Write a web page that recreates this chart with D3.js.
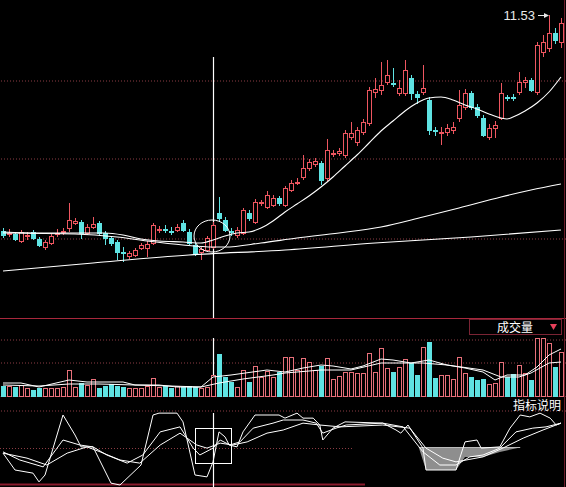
<!DOCTYPE html>
<html>
<head>
<meta charset="utf-8">
<script src="https://cdn.jsdelivr.net/npm/d3@7/dist/d3.min.js"></script>
<style>
html,body{margin:0;padding:0;background:#000;overflow:hidden;}
svg{display:block;}
</style>
</head>
<body>
<div id="chart"></div>
<script>
// daily candles
var open  = [7.21,7.16,7.15,7.01,7.10,7.19,7.05,6.89,6.97,7.16, 7.18,7.27,7.37,7.39,7.17,7.29,7.37,7.17,7.07,6.99,
             6.80,6.71,6.73,6.87,6.87,6.97,7.22,7.26,7.22,7.23, 7.37,7.19,6.93,6.79,6.83,6.89,7.57,7.43,7.20,7.13,
             7.17,7.57,7.39,7.76,7.69,7.73,7.87,7.73,8.03,8.18, 8.29,8.47,8.55,8.57,8.27,8.76,8.77,8.73,9.09,8.99,
             9.19,9.37,9.99,10.03,10.19,10.18,9.97,9.97,10.27,9.95, 9.99,9.83,9.22,9.18,9.19,9.23,9.47,9.69,9.97,9.69,
             9.47,9.09,9.27,9.47,9.88,9.88,9.99,10.19,10.23,9.99, 10.79,10.87,11.17,10.99];
var close = [7.13,7.18,7.05,7.19,7.12,7.07,6.93,6.99,7.11,7.18, 7.20,7.43,7.41,7.17,7.29,7.35,7.17,7.07,6.97,6.79,
             6.78,6.77,6.83,6.93,6.95,7.33,7.24,7.24,7.20,7.29, 7.23,6.97,6.77,6.85,7.07,7.33,7.47,7.23,7.18,7.23,
             7.63,7.47,7.79,7.78,7.93,7.87,7.77,8.07,8.17,8.20, 8.47,8.59,8.61,8.23,8.83,8.78,8.81,9.17,9.17,9.23,
             9.39,10.03,10.05,10.13,10.33,10.16,10.07,10.43,9.97,9.89, 10.07,9.23,9.20,9.20,9.27,9.29,9.73,9.97,9.69,9.53,
             9.13,9.27,9.33,9.97,9.86,9.86,10.19,10.23,10.03,10.93, 10.99,11.17,11.03,11.37];
var high  = [7.27,7.25,7.19,7.23,7.19,7.23,7.09,7.03,7.15,7.25, 7.27,7.77,7.47,7.43,7.35,7.49,7.41,7.21,7.11,7.03,
             6.89,6.81,6.87,6.97,7.01,7.37,7.31,7.33,7.29,7.35, 7.43,7.25,6.97,6.89,7.11,7.39,7.89,7.49,7.27,7.29,
             7.67,7.63,7.85,7.83,8.01,7.93,7.91,8.11,8.23,8.27, 8.73,8.65,8.67,8.61,9.05,8.83,8.87,9.23,9.39,9.29,
             9.45,10.09,10.27,10.59,10.63,10.47,10.23,10.63,10.33,10.01, 10.53,9.89,9.29,9.29,9.35,9.39,10.03,10.05,10.01,9.75,
             9.53,9.35,9.41,10.17,9.93,9.95,10.39,10.29,10.27,10.99, 11.13,11.53,11.27,11.47];
var low   = [7.07,7.09,7.01,6.97,7.03,7.03,6.89,6.83,6.93,7.09, 7.13,7.19,7.33,7.05,7.13,7.25,7.11,6.93,6.91,6.63,
             6.59,6.65,6.69,6.83,6.69,6.93,7.17,7.17,7.13,7.19, 7.19,6.93,6.71,6.63,6.79,6.85,7.39,7.19,7.11,7.07,
             7.13,7.41,7.35,7.71,7.65,7.69,7.71,7.69,7.99,8.13, 8.23,8.41,8.49,8.13,8.21,8.69,8.71,8.67,9.03,8.91,
             9.13,9.31,9.87,9.93,10.13,10.09,9.91,9.91,9.83,9.75, 9.93,9.13,9.11,8.93,9.11,9.15,9.39,9.63,9.63,9.47,
             9.09,9.03,9.07,9.43,9.81,9.81,9.93,10.07,9.99,9.93, 10.69,10.79,10.95,10.87];
var volume = [10,10,9,11,8,6,8,8,8,8, 9,26,9,13,11,17,8,10,12,10, 9,8,8,8,10,18,9,10,8,10,
              9,10,9,8,9,21,42,19,14,9, 26,14,30,19,25,19,24,39,39,26, 38,34,26,30,38,17,20,24,24,23,
              23,43,24,48,28,24,29,37,33,21, 49,54,18,21,21,17,39,23,19,16, 17,12,13,34,19,22,31,23,16,58,
              58,53,29,44];

// moving averages as [day index, value]
var ma20 = [[0,7.19],[6,7.17],[12,7.17],[17,7.17],[20,7.13],[23,7.05],[26,7.01],[30,6.99],[33,6.97],[35,7.03],
            [37,7.11],[39,7.17],[41,7.19],[43,7.27],[45,7.41],[47,7.59],[49,7.75],[51,7.91],[53,8.09],[55,8.29],
            [57,8.51],[59,8.73],[61,8.97],[63,9.21],[65,9.41],[67,9.61],[69,9.77],[71,9.87],[73,9.89],[75,9.83],
            [77,9.73],[79,9.65],[81,9.55],[83,9.47],[84,9.45],[85,9.49],[87,9.61],[89,9.77],[91,9.99],[93,10.29]];
var ma60 = [[0,7.17],[12,7.15],[19,7.09],[24,7.01],[30,6.93],[35,6.89],[37,6.89],[43,6.97],[49,7.07],[56,7.17],
            [63,7.29],[70,7.49],[76,7.67],[83,7.89],[88,8.03],[93,8.15]];
var ma120 = [[0,6.41],[15,6.57],[31,6.73],[47,6.83],[62,6.97],[78,7.09],[93,7.23]];

var vma5 = [[0,13],[3,13],[6,9],[11,16],[14,14],[20,14],[22,11],[26,11],[29,9],[33,9],[35,19],[38,21],[44,26],
            [47,24],[50,28],[53,31],[55,30],[58,27],[60,30],[63,37],[65,36],[68,33],[71,36],[74,31],[77,28],
            [80,24],[82,16],[84,21],[87,21],[89,29],[91,41],[93,47]];
var vma10 = [[0,11],[6,10],[11,12],[16,12],[22,11],[28,10],[33,9],[36,13],[40,17],[45,21],[47,23],[53,26],
             [58,26],[63,33],[70,33],[74,31],[80,26],[83,19],[86,19],[88,23],[91,33],[93,34]];

// indicator lines
var kLine = [[0,13],[2.8,0],[6.7,-11],[10,32],[12.8,24],[15,21],[17.3,8],[20.7,-5],[23.3,8],[26.2,45],[29.5,53],
             [31.7,19],[32.8,8],[35,19],[36.2,32],[37.8,24],[39.5,29],[41.7,51],[45,59],[46.7,64],[50,64],
             [52.2,59],[53.3,43],[55.5,51],[57.2,56],[63.3,59],[66.7,53],[70,13],[72.8,-8],[75.5,-8],[77.8,5],
             [80,8],[82.8,19],[85.5,45],[88.3,51],[90.5,53],[93,59]];
var dLine = [[0,11],[4,3],[7.3,-8],[10.7,11],[14,21],[16.2,13],[19.5,0],[22.8,-5],[26.2,24],[29.5,43],[32.3,24],
             [34,19],[36.2,27],[38.3,24],[40.7,29],[44,43],[46.7,48],[50,59],[52.8,56],[56.2,53],[63.3,56],
             [67.8,51],[70.5,19],[73.3,3],[75.5,-3],[80,5],[83.3,19],[86.7,35],[90,48],[93,59]];
var jLine = [[0,11],[2,-16],[5,-21],[6,-35],[7,-24],[10,72],[12,40],[13,21],[15,21],[18,-37],[19.5,-40],[23,-8],
             [25,72],[26,75],[29,75],[30,61],[32,-24],[34,-27],[35,-3],[36,45],[37,37],[37.7,24],[39,21],[40,45],
             [42,72],[46,72],[47,67],[49,75],[50,67],[51.7,67],[52.8,56],[53.3,32],[55,51],[57,61],[63.3,59],
             [65.5,48],[66.3,43],[67.5,56],[70,19],[70.5,-16],[75.5,-16],[77,29],[79,32],[79.7,19],[82.8,21],
             [84.5,51],[86.2,72],[87.8,69],[89.5,75],[91.2,67],[92.2,56],[93,59]];
var fillLow = [[69.3,20],[70.5,-16],[75.5,-16],[77,5],[80,5],[82.8,13],[86.2,20]];

var priceGrid = [10.23, 8.67, 7.07];
var volGrid = [34, 57];
var kdjGrid = [80, 20];
var crossDay = 35;

var W = 566, H = 487;
var red = "#ee5660", cyan = "#5fe3e3", gridCol = "#8c3c44", panelCol = "#a8283c";

var svg = d3.select('#chart').append('svg')
    .attr("width", W).attr("height", H)
    .attr("style", "background:#000");

var x = d3.scaleLinear().domain([0, 93]).range([3, 561]);
var yPrice = d3.scaleLinear().domain([5.47, 11.83]).range([318, 0]);
var yVol = d3.scaleLinear().domain([0, 60]).range([396, 336]);
var yKdj = d3.scaleLinear().domain([0, 100]).range([460, 397.5]);

function gridAt(scale, ticks, x0, x1) {
  var g = svg.append("g").attr("transform", "translate(" + x1 + ",0.5)")
      .call(d3.axisLeft(scale).tickValues(ticks).tickSize(x1 - x0).tickFormat(""));
  g.select(".domain").remove();
  g.selectAll("line").attr("stroke", gridCol).attr("stroke-dasharray", "1,2");
}
gridAt(yPrice, priceGrid, 0, W);
gridAt(yVol, volGrid, 0, W);
gridAt(yKdj, [kdjGrid[0]], 0, W);
gridAt(yKdj, [kdjGrid[1]], 0, 352);

// panel borders
svg.append("line").attr("x1", 0).attr("x2", W).attr("y1", 318.5).attr("y2", 318.5).attr("stroke", panelCol);
svg.append("line").attr("x1", 0).attr("x2", W).attr("y1", 396.5).attr("y2", 396.5).attr("stroke", "#5a1822");
svg.append("line").attr("x1", 0).attr("x2", 365).attr("y1", 484.5).attr("y2", 484.5).attr("stroke", "#8a1a2c").attr("stroke-width", 2);
svg.append("line").attr("x1", 564.5).attr("x2", 564.5).attr("y1", 0).attr("y2", H).attr("stroke", "#6a1a28");

// crosshair
var cx = x(crossDay) + 0.5;
[[57, 318], [338, 396], [413, 487]].forEach(function(s) {
  svg.append("line").attr("x1", cx).attr("x2", cx).attr("y1", s[0]).attr("y2", s[1])
     .attr("stroke", "#fff").attr("stroke-width", 1.2);
});

var idx = d3.range(open.length);
function isUp(i) { return close[i] >= open[i]; }

// candles
var candles = svg.append("g");
candles.selectAll("line").data(idx).join("line")
  .attr("x1", function(i) { return x(i) + 0.5; })
  .attr("x2", function(i) { return x(i) + 0.5; })
  .attr("y1", function(i) { return yPrice(high[i]); })
  .attr("y2", function(i) { return yPrice(low[i]); })
  .attr("stroke", function(i) { return isUp(i) ? red : cyan; });
candles.selectAll("rect").data(idx).join("rect")
  .attr("x", function(i) { return x(i) - 1.5; })
  .attr("width", 4)
  .attr("y", function(i) { return Math.round(yPrice(Math.max(open[i], close[i]))) + 0.5; })
  .attr("height", function(i) { return Math.max(0.5, Math.abs(yPrice(open[i]) - yPrice(close[i]))); })
  .attr("fill", function(i) { return isUp(i) ? "#000" : cyan; })
  .attr("stroke", function(i) { return isUp(i) ? red : cyan; });

// price moving averages
var maLine = d3.line().x(function(d) { return x(d[0]); }).y(function(d) { return yPrice(d[1]); })
    .curve(d3.curveMonotoneX);
[ma120, ma60, ma20].forEach(function(s) {
  svg.append("path").datum(s).attr("d", maLine).attr("fill", "none")
     .attr("stroke", "#fff").attr("stroke-width", 1.1);
});

// annotation circle
svg.append("ellipse").attr("cx", 212).attr("cy", 236).attr("rx", 18).attr("ry", 16)
   .attr("fill", "none").attr("stroke", "#fff").attr("stroke-width", 1);

// high label
svg.append("text").attr("x", 535).attr("y", 20).attr("text-anchor", "end")
   .attr("fill", "#e8e8e8").attr("font-family", "Liberation Sans, Arial, sans-serif").attr("font-size", 13)
   .text("11.53");
svg.append("line").attr("x1", 538).attr("x2", 546).attr("y1", 15.5).attr("y2", 15.5).attr("stroke", "#e8e8e8");
svg.append("path").attr("d", "M544,13 L549,15.5 L544,18 Z").attr("fill", "#e8e8e8");

// volume bars
svg.append("g").selectAll("rect").data(idx).join("rect")
  .attr("x", function(i) { return x(i) - 1.5; })
  .attr("width", 4)
  .attr("y", function(i) { return Math.round(yVol(volume[i])) + 0.5; })
  .attr("height", function(i) { return 396 - Math.round(yVol(volume[i])); })
  .attr("fill", function(i) { return isUp(i) ? "#000" : cyan; })
  .attr("stroke", function(i) { return isUp(i) ? "#e8707a" : cyan; });

var volLine = d3.line().x(function(d) { return x(d[0]); }).y(function(d) { return yVol(d[1]); });
[vma10, vma5].forEach(function(s) {
  svg.append("path").datum(s).attr("d", volLine).attr("fill", "none").attr("stroke", "#fff").attr("stroke-width", 1);
});

// volume title box
svg.append("rect").attr("x", 469.5).attr("y", 319.5).attr("width", 92).attr("height", 15)
   .attr("fill", "#000").attr("stroke", "#7a2434");
svg.append("text").attr("x", 515).attr("y", 332).attr("text-anchor", "middle")
   .attr("fill", "#fff").attr("font-family", "Noto Sans CJK SC, sans-serif").attr("font-size", 12)
   .text("成交量");
svg.append("path").attr("d", "M550,324 L557,324 L553.5,330 Z").attr("fill", "#e8405a");

// indicator panel
var kdjLine = d3.line().x(function(d) { return x(d[0]); }).y(function(d) { return yKdj(d[1]); });
svg.append("path").datum(fillLow)
   .attr("d", d3.area().x(function(d) { return x(d[0]); })
       .y0(yKdj(kdjGrid[1])).y1(function(d) { return yKdj(d[1]); }))
   .attr("fill", "#8e8e8e");
svg.append("line").attr("x1", x(fillLow[0][0])).attr("x2", x(fillLow[fillLow.length - 1][0]))
   .attr("y1", yKdj(kdjGrid[1])).attr("y2", yKdj(kdjGrid[1])).attr("stroke", "#bbb");
[dLine, kLine, jLine].forEach(function(s) {
  svg.append("path").datum(s).attr("d", kdjLine).attr("fill", "none").attr("stroke", "#fff").attr("stroke-width", 1);
});
svg.append("rect").attr("x", 195.5).attr("y", 428.5).attr("width", 36).attr("height", 35)
   .attr("fill", "none").attr("stroke", "#fff");
svg.append("text").attr("x", 561).attr("y", 410).attr("text-anchor", "end")
   .attr("fill", "#fff").attr("font-family", "Noto Sans CJK SC, sans-serif").attr("font-size", 12)
   .text("指标说明");
</script>
</body>
</html>
